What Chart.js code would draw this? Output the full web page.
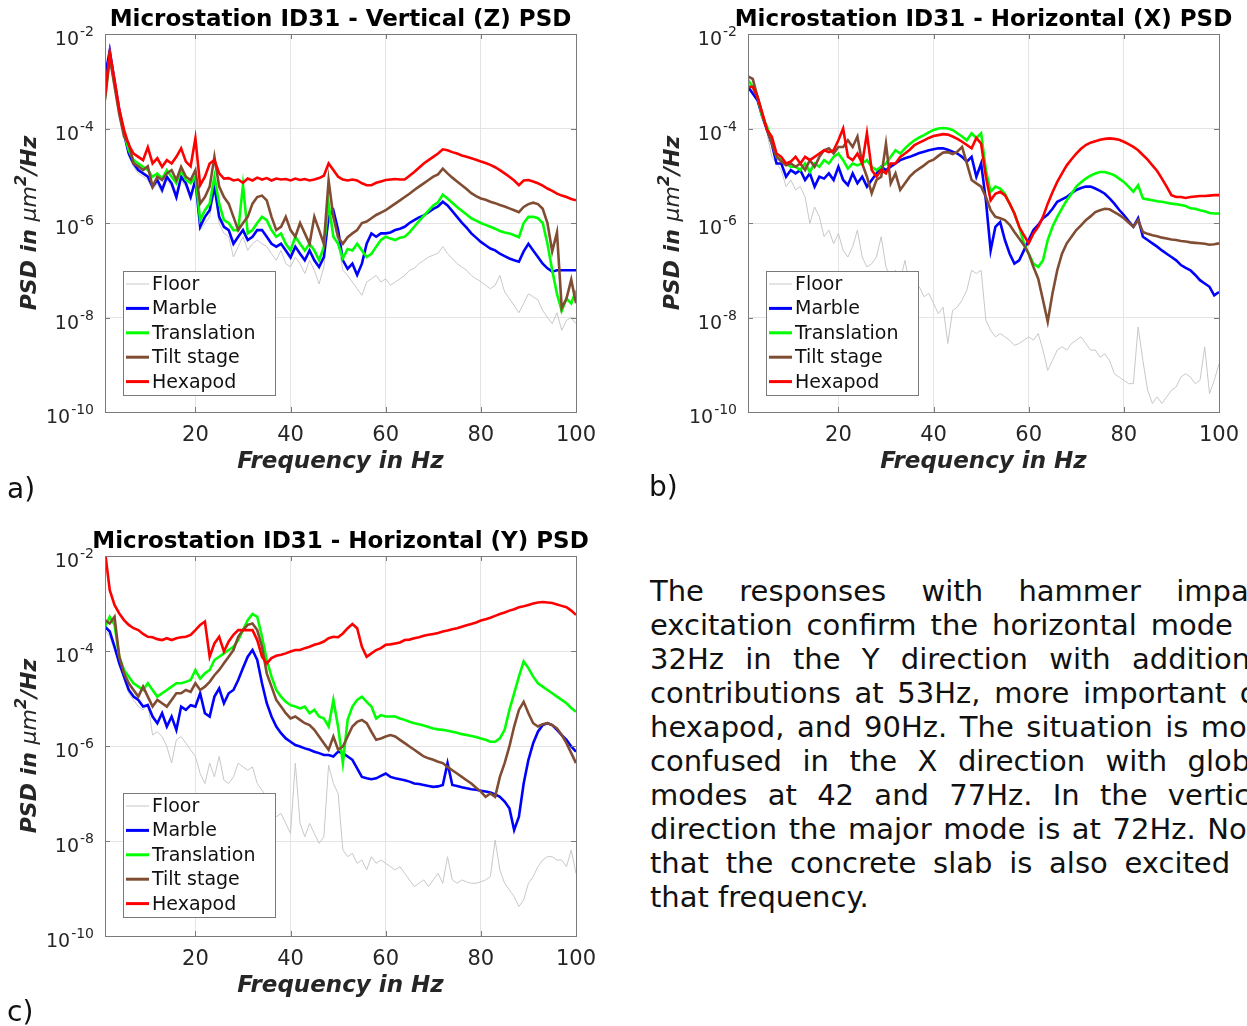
<!DOCTYPE html>
<html>
<head>
<meta charset="utf-8">
<script src="https://cdn.jsdelivr.net/npm/chart.js@4.4.0/dist/chart.umd.min.js"></script>
<style>
  html, body { margin: 0; padding: 0; background: #fff; width: 1247px; height: 1026px; overflow: hidden; }
  canvas { position: absolute; }
  #za { left: 0; top: 0; }
  #zb { left: 620px; top: 0; }
  #zc { left: 0; top: 520px; }
  .panel { position: absolute; font: 28px "DejaVu Sans"; line-height: 1; color: #111; }
  #para { position: absolute; left: 650px; top: 574px; width: 626px; font: 29px "DejaVu Sans"; line-height: 34px; color: #111; }
  #para span { display: block; text-align: justify; text-align-last: justify; white-space: nowrap; }
  #para span.last { text-align-last: left; }
</style>
</head>
<body>
<canvas id="za" width="620" height="500"></canvas>
<canvas id="zb" width="627" height="500"></canvas>
<canvas id="zc" width="620" height="506"></canvas>
<div class="panel" style="left:7px;top:475px;">a)</div>
<div class="panel" style="left:649px;top:473px;">b)</div>
<div class="panel" style="left:7px;top:998px;">c)</div>
<div id="para">
  <span>The responses with hammer impact</span>
  <span>excitation confirm the horizontal mode at</span>
  <span>32Hz in the Y direction with additional</span>
  <span>contributions at 53Hz, more important on</span>
  <span>hexapod, and 90Hz. The situation is more</span>
  <span>confused in the X direction with global</span>
  <span>modes at 42 and 77Hz. In the vertical</span>
  <span>direction the major mode is at 72Hz. Note</span>
  <span>that the concrete slab is also excited at</span>
  <span class="last">that frequency.</span>
</div>
<script>
// frequency grid (Hz), shared by all three plots
const freq = [
  1, 2, 3, 4, 5, 6, 7, 8, 9, 10, 11, 12, 13, 14, 15, 16, 17, 18, 19, 20,
  21, 22, 23, 24, 25, 26, 27, 28, 29, 30, 31, 32, 33, 34, 35, 36, 37, 38, 39, 40,
  41, 42, 43, 44, 45, 46, 47, 48, 49, 50, 51, 52, 53, 54, 55, 56, 57, 58, 59, 60,
  61, 62, 63, 64, 65, 66, 67, 68, 69, 70, 71, 72, 73, 74, 75, 76, 77, 78, 79, 80,
  81, 82, 83, 84, 85, 86, 87, 88, 89, 90, 91, 92, 93, 94, 95, 96, 97, 98, 99, 100
];

const stages = ['Floor', 'Marble', 'Translation', 'Tilt stage', 'Hexapod'];
const xTicks = [20, 40, 60, 80, 100];
const yTickExp = [-2, -4, -6, -8, -10];

// PSD values, stored as log10 (um^2/Hz), one value per freq entry
// a) vertical Z
const zFloor = [
  -3.0, -2.5, -3.1, -3.7, -4.2, -4.6, -4.81, -4.95, -5.02, -5.09,
  -5.3, -5.16, -5.38, -5.09, -5.23, -5.52, -5.09, -5.23, -5.52, -5.16,
  -6.15, -6.01, -5.87, -5.3, -6.01, -6.22, -6.29, -6.72, -6.5, -6.29,
  -6.58, -6.44, -6.36, -6.44, -6.5, -6.65, -6.79, -6.58, -6.86, -6.93,
  -6.72, -6.86, -7.07, -6.79, -7.0, -7.29, -6.93, -6.01, -5.87, -6.44,
  -7.0, -7.11, -7.25, -7.39, -7.53, -7.25, -7.18, -7.11, -7.25, -7.18,
  -7.32, -7.25, -7.18, -7.11, -7.0, -6.96, -6.86, -6.79, -6.72, -6.68,
  -6.64, -6.5, -6.65, -6.75, -6.86, -6.93, -7.0, -7.11, -7.18, -7.24,
  -7.32, -7.39, -7.32, -7.11, -7.46, -7.6, -7.75, -7.9, -7.7, -7.5,
  -7.56, -7.63, -7.85, -8.0, -8.13, -7.9, -8.27, -8.06, -8.0, -8.13
];
const zMarble = [
  -2.9, -2.35, -3.0, -3.6, -4.1, -4.53, -4.74, -4.88, -4.95, -5.02,
  -5.23, -5.09, -5.3, -5.02, -5.16, -5.45, -5.02, -5.16, -5.45, -5.09,
  -6.08, -5.87, -5.73, -5.23, -5.87, -6.08, -6.15, -6.44, -6.29, -6.15,
  -6.36, -6.29, -6.15, -6.15, -6.29, -6.44, -6.5, -6.44, -6.58, -6.73,
  -6.5, -6.65, -6.79, -6.58, -6.79, -6.93, -6.72, -5.87, -5.73, -6.15,
  -6.79, -6.97, -6.86, -7.1, -6.86, -6.44, -6.22, -6.29, -6.22, -6.22,
  -6.2, -6.15, -6.12, -6.08, -6.0, -5.94, -5.88, -5.84, -5.77, -5.7,
  -5.65, -5.55, -5.63, -5.75, -5.87, -5.99, -6.1, -6.22, -6.31, -6.4,
  -6.47, -6.54, -6.58, -6.65, -6.7, -6.75, -6.79, -6.82, -6.6, -6.44,
  -6.58, -6.72, -6.86, -6.96, -7.03, -7.0, -7.0, -7.0, -7.0, -7.0
];
const zTranslation = [
  -3.35, -2.45, -3.05, -3.65, -4.1, -4.46, -4.67, -4.74, -4.81, -4.88,
  -5.02, -4.95, -5.06, -4.88, -5.02, -5.16, -4.88, -5.09, -5.16, -5.02,
  -5.94, -5.73, -5.59, -5.02, -5.59, -5.94, -6.0, -6.15, -6.15, -5.2,
  -6.22, -6.15, -6.0, -5.87, -5.94, -6.15, -6.29, -6.22, -6.44, -6.58,
  -6.29, -6.44, -6.58, -6.44, -6.58, -6.79, -6.5, -5.59, -6.29, -6.44,
  -6.75, -6.55, -6.58, -6.44, -6.58, -6.72, -6.65, -6.5, -6.36, -6.29,
  -6.33, -6.36, -6.31, -6.29, -6.2, -6.08, -5.96, -5.85, -5.74, -5.63,
  -5.56, -5.4, -5.48, -5.57, -5.66, -5.74, -5.82, -5.9, -5.95, -6.0,
  -6.04, -6.08, -6.12, -6.17, -6.2, -6.22, -6.26, -6.3, -6.0, -5.87,
  -5.87, -5.9, -6.0, -6.44, -7.0, -7.5, -7.86, -7.6, -7.7, -7.43
];
const zTilt = [
  -3.4, -2.5, -3.1, -3.7, -4.17, -4.32, -4.74, -4.8, -4.88, -4.8,
  -5.23, -5.02, -5.09, -4.95, -4.88, -5.09, -4.81, -5.02, -5.09, -4.88,
  -5.59, -5.45, -5.23, -4.6, -5.23, -5.45, -5.59, -5.87, -6.15, -6.0,
  -5.87, -5.59, -5.45, -5.42, -5.52, -5.87, -6.15, -6.08, -5.87, -6.15,
  -6.29, -6.0, -6.22, -6.44, -5.87, -6.15, -6.44, -5.1, -5.87, -6.3,
  -6.44, -6.3, -6.22, -6.15, -6.0, -5.97, -5.9, -5.83, -5.78, -5.73,
  -5.66, -5.59, -5.52, -5.45, -5.38, -5.3, -5.23, -5.16, -5.09, -5.02,
  -4.97, -4.85, -4.95, -5.04, -5.12, -5.2, -5.28, -5.37, -5.43, -5.48,
  -5.51, -5.55, -5.58, -5.62, -5.65, -5.69, -5.73, -5.77, -5.66, -5.6,
  -5.57, -5.6, -5.7, -6.0, -6.6, -6.2, -7.8, -7.6, -7.2, -7.7
];
const zHexapod = [
  -3.3, -2.4, -2.97, -3.6, -4.03, -4.35, -4.53, -4.6, -4.67, -4.4,
  -4.74, -4.63, -4.81, -4.67, -4.74, -4.6, -4.42, -4.7, -4.8, -4.21,
  -5.2, -5.02, -4.74, -4.67, -4.95, -5.06, -5.05, -5.1, -5.08, -5.15,
  -5.06, -5.1, -5.04, -5.08, -5.05, -5.1, -5.06, -5.08, -5.07, -5.1,
  -5.06, -5.09, -5.07, -5.1, -5.08, -5.05, -5.0, -4.74, -4.88, -5.02,
  -5.08, -5.1, -5.08, -5.1, -5.16, -5.2, -5.2, -5.15, -5.12, -5.09,
  -5.08, -5.07, -5.08, -5.08, -5.0, -4.92, -4.83, -4.74, -4.67, -4.6,
  -4.53, -4.44, -4.46, -4.5, -4.53, -4.57, -4.6, -4.63, -4.66, -4.7,
  -4.73, -4.77, -4.82, -4.88, -4.95, -5.02, -5.1, -5.2, -5.1, -5.09,
  -5.12, -5.16, -5.21, -5.27, -5.32, -5.38, -5.42, -5.45, -5.49, -5.52
];

// b) horizontal X
const xFloor = [
  -3.1, -3.2, -3.4, -3.75, -4.1, -4.6, -4.74, -4.88, -5.23, -5.09,
  -5.3, -5.23, -5.45, -6.01, -5.66, -5.87, -6.29, -6.15, -6.44, -6.22,
  -6.58, -6.72, -6.5, -6.15, -6.72, -6.93, -6.86, -6.72, -6.29, -6.93,
  -7.14, -7.0, -7.21, -6.79, -7.35, -7.42, -7.35, -7.56, -7.49, -7.7,
  -7.92, -7.78, -8.55, -7.85, -7.78, -7.63, -7.42, -7.0, -7.07, -7.0,
  -8.06, -8.27, -8.41, -8.34, -8.41, -8.48, -8.59, -8.55, -8.48, -8.41,
  -8.48, -8.34, -8.69, -9.12, -8.91, -8.69, -8.62, -8.69, -8.55, -8.48,
  -8.41, -8.55, -8.69, -8.69, -8.84, -8.77, -8.91, -9.19, -9.26, -9.33,
  -9.4, -9.4, -8.2, -8.91, -9.54, -9.82, -9.68, -9.82, -9.68, -9.54,
  -9.47, -9.26, -9.19, -9.26, -9.4, -9.33, -8.62, -9.61, -9.33, -8.98
];
const xMarble = [
  -3.12, -3.26, -3.4, -3.75, -4.03, -4.32, -4.74, -4.74, -5.02, -4.88,
  -4.95, -4.88, -5.09, -4.95, -5.23, -5.02, -5.06, -4.95, -5.09, -4.81,
  -5.09, -5.2, -4.95, -5.16, -5.02, -5.23, -5.09, -4.95, -4.81, -4.88,
  -4.81, -4.74, -4.67, -4.63, -4.6, -4.56, -4.52, -4.49, -4.46, -4.44,
  -4.42, -4.42, -4.45, -4.49, -4.53, -4.6, -4.7, -4.6, -5.02, -4.74,
  -5.52, -6.58, -6.08, -5.98, -6.36, -6.65, -6.86, -6.79, -6.58, -6.36,
  -6.15, -6.04, -5.9, -5.82, -5.7, -5.55, -5.5, -5.45, -5.37, -5.3,
  -5.26, -5.23, -5.23, -5.27, -5.32, -5.38, -5.48, -5.59, -5.72, -5.83,
  -5.96, -6.08, -5.9, -6.29, -6.36, -6.43, -6.5, -6.58, -6.65, -6.72,
  -6.79, -6.89, -6.95, -7.0, -7.1, -7.21, -7.28, -7.35, -7.53, -7.46
];
const xTranslation = [
  -2.97, -3.12, -3.33, -3.75, -3.96, -4.25, -4.6, -4.67, -4.74, -4.81,
  -4.81, -4.88, -4.74, -4.92, -4.74, -4.81, -4.67, -4.74, -4.6, -4.53,
  -4.67, -4.85, -4.74, -4.78, -4.74, -4.67, -4.81, -4.88, -4.81, -4.74,
  -4.6, -4.46, -4.53, -4.42, -4.33, -4.25, -4.19, -4.14, -4.08, -4.03,
  -4.0, -3.99, -4.0, -4.03, -4.1, -4.17, -4.25, -4.1, -4.2, -4.1,
  -4.88, -5.34, -5.23, -5.27, -5.38, -5.59, -5.8, -6.08, -6.43, -6.65,
  -6.86, -6.93, -6.79, -6.36, -6.08, -5.87, -5.69, -5.52, -5.38, -5.23,
  -5.14, -5.06, -5.0, -4.95, -4.92, -4.92, -4.95, -4.99, -5.06, -5.13,
  -5.23, -5.34, -5.2, -5.48, -5.5, -5.52, -5.54, -5.55, -5.57, -5.59,
  -5.6, -5.62, -5.64, -5.69, -5.7, -5.73, -5.75, -5.79, -5.8, -5.8
];
const xTilt = [
  -2.9, -2.95, -3.33, -3.68, -4.03, -4.32, -4.6, -4.7, -4.78, -4.74,
  -4.81, -4.74, -4.88, -4.67, -4.81, -4.6, -4.46, -4.42, -4.53, -4.39,
  -4.39, -4.25, -4.39, -4.17, -4.74, -5.02, -5.37, -5.09, -5.02, -4.32,
  -5.16, -4.95, -5.3, -5.16, -5.02, -4.92, -4.85, -4.78, -4.7, -4.66,
  -4.58, -4.51, -4.5, -4.54, -4.49, -4.39, -4.74, -5.09, -5.16, -5.23,
  -5.45, -5.73, -5.87, -5.9, -5.94, -6.04, -6.19, -6.33, -6.47, -6.65,
  -6.93, -7.18, -7.63, -8.09, -7.49, -7.0, -6.65, -6.43, -6.29, -6.15,
  -6.05, -5.94, -5.86, -5.77, -5.73, -5.7, -5.71, -5.77, -5.83, -5.9,
  -5.99, -6.08, -5.94, -6.19, -6.23, -6.26, -6.28, -6.31, -6.33, -6.35,
  -6.36, -6.38, -6.39, -6.41, -6.42, -6.43, -6.44, -6.46, -6.45, -6.43
];
const xHexapod = [
  -3.12, -3.12, -3.33, -3.68, -4.03, -4.17, -4.53, -4.6, -4.74, -4.7,
  -4.6, -4.74, -4.6, -4.67, -4.6, -4.53, -4.46, -4.5, -4.46, -4.25,
  -4.0, -4.6, -4.67, -4.53, -4.74, -4.1, -4.88, -5.02, -4.88, -4.95,
  -4.74, -4.74, -4.6, -4.53, -4.45, -4.35, -4.3, -4.25, -4.2, -4.16,
  -4.14, -4.12, -4.13, -4.17, -4.22, -4.28, -4.35, -4.42, -4.2, -4.32,
  -5.02, -5.52, -5.38, -5.34, -5.41, -5.59, -5.8, -6.08, -6.26, -6.43,
  -6.22, -6.08, -5.87, -5.59, -5.35, -5.13, -4.95, -4.78, -4.65, -4.53,
  -4.43, -4.35, -4.3, -4.27, -4.24, -4.22, -4.21, -4.22, -4.24, -4.28,
  -4.33, -4.39, -4.46, -4.56, -4.66, -4.78, -4.9, -5.06, -5.23, -5.41,
  -5.45, -5.45, -5.47, -5.45, -5.44, -5.43, -5.43, -5.42, -5.41, -5.41
];

// c) horizontal Y
const yFloor = [
  -3.56, -3.7, -3.98, -4.26, -4.61, -4.89, -5.03, -5.17, -5.24, -5.1,
  -5.77, -5.7, -5.8, -6.01, -6.36, -5.87, -5.8, -5.94, -6.08, -6.22,
  -6.58, -6.79, -6.36, -6.65, -6.22, -6.72, -6.79, -6.65, -6.36, -6.44,
  -6.51, -6.44, -6.79, -6.93, -7.07, -7.35, -7.49, -7.42, -7.63, -7.84,
  -6.36, -7.63, -7.91, -7.63, -7.84, -8.05, -7.91, -6.4, -6.79, -7.0,
  -8.19, -8.33, -8.26, -8.47, -8.4, -8.61, -8.33, -8.47, -8.4, -8.47,
  -8.54, -8.61, -8.54, -8.68, -8.82, -8.96, -8.89, -8.82, -8.96, -8.82,
  -8.68, -8.89, -8.33, -8.82, -8.89, -8.82, -8.86, -8.89, -8.89, -8.86,
  -8.82, -8.75, -7.98, -8.61, -8.89, -9.03, -9.17, -9.38, -9.24, -8.89,
  -8.75, -8.54, -8.4, -8.33, -8.33, -8.4, -8.4, -8.54, -8.19, -8.68
];
const yMarble = [
  -3.49, -3.59, -3.91, -4.26, -4.54, -4.82, -4.96, -5.03, -5.17, -5.14,
  -5.38, -5.52, -5.31, -5.59, -5.38, -5.66, -5.17, -5.24, -5.14, -5.17,
  -4.89, -5.31, -5.38, -4.96, -4.79, -5.1, -4.89, -4.82, -4.61, -4.36,
  -4.12, -3.98, -4.19, -4.68, -5.1, -5.38, -5.59, -5.73, -5.84, -5.91,
  -5.98, -6.01, -6.05, -6.08, -6.12, -6.15, -6.19, -6.19, -6.22, -6.12,
  -6.15, -6.22, -6.29, -6.47, -6.65, -6.68, -6.7, -6.68, -6.63, -6.58,
  -6.65, -6.68, -6.7, -6.72, -6.75, -6.79, -6.8, -6.82, -6.84, -6.86,
  -6.85, -6.82, -6.36, -6.82, -6.84, -6.87, -6.89, -6.91, -6.92, -6.94,
  -6.96, -6.98, -7.02, -7.07, -7.17, -7.31, -7.77, -7.49, -6.79, -6.29,
  -5.94, -5.7, -5.56, -5.52, -5.56, -5.66, -5.77, -5.87, -6.01, -6.12
];
const yTranslation = [
  -3.49, -3.28, -3.45, -4.12, -4.4, -4.54, -4.68, -4.75, -4.82, -4.68,
  -4.82, -4.96, -4.89, -4.82, -4.75, -4.68, -4.68, -4.65, -4.61, -4.4,
  -4.58, -4.47, -4.4, -4.19, -4.12, -4.05, -3.98, -3.91, -3.77, -3.56,
  -3.35, -3.22, -3.28, -3.7, -4.19, -4.54, -4.82, -4.96, -5.07, -5.14,
  -5.17, -5.21, -5.17, -5.31, -5.24, -5.38, -5.42, -5.59, -5.03, -5.6,
  -6.36, -5.45, -5.17, -5.03, -4.96, -5.07, -5.17, -5.42, -5.35, -5.38,
  -5.38, -5.38, -5.42, -5.45, -5.49, -5.52, -5.54, -5.57, -5.6, -5.63,
  -5.65, -5.66, -5.68, -5.7, -5.72, -5.75, -5.77, -5.79, -5.81, -5.84,
  -5.87, -5.91, -5.91, -5.84, -5.66, -5.24, -4.89, -4.54, -4.22, -4.36,
  -4.54, -4.68, -4.75, -4.82, -4.89, -4.96, -5.03, -5.1, -5.2, -5.28
];
const yTilt = [
  -3.35, -3.42, -3.28, -4.12, -4.47, -4.68, -4.82, -4.96, -4.75, -4.96,
  -5.17, -5.03, -5.1, -5.17, -5.03, -4.89, -4.89, -4.82, -4.86, -4.68,
  -4.82, -4.75, -4.65, -4.51, -4.4, -4.26, -4.12, -3.98, -3.7, -3.56,
  -3.45, -3.42, -3.56, -3.91, -4.47, -4.75, -5.03, -5.17, -5.31, -5.42,
  -5.38, -5.45, -5.52, -5.56, -5.66, -5.8, -5.94, -6.08, -5.8, -6.08,
  -6.01, -5.8, -5.59, -5.49, -5.45, -5.52, -5.7, -5.87, -5.84, -5.8,
  -5.77, -5.8, -5.87, -5.94, -6.01, -6.08, -6.15, -6.22, -6.26, -6.29,
  -6.33, -6.36, -6.44, -6.51, -6.58, -6.65, -6.72, -6.79, -6.88, -6.96,
  -7.07, -7.0, -7.07, -6.65, -6.36, -6.01, -5.59, -5.24, -5.07, -5.31,
  -5.52, -5.59, -5.54, -5.52, -5.56, -5.63, -5.77, -5.94, -6.15, -6.36
];
const yHexapod = [
  -1.9, -2.72, -3.03, -3.21, -3.35, -3.45, -3.52, -3.56, -3.64, -3.7,
  -3.71, -3.75, -3.77, -3.73, -3.77, -3.73, -3.71, -3.7, -3.66, -3.56,
  -3.45, -3.38, -4.12, -3.84, -3.7, -4.01, -3.8, -3.66, -3.56, -3.56,
  -3.56, -3.56, -3.77, -4.12, -4.26, -4.15, -4.1, -4.08, -4.05, -4.01,
  -3.98, -3.98, -3.94, -3.91, -3.87, -3.84, -3.8, -3.73, -3.7, -3.71,
  -3.63, -3.52, -3.43, -3.52, -3.91, -4.12, -4.05, -3.98, -3.94, -3.87,
  -3.86, -3.84, -3.82, -3.77, -3.76, -3.73, -3.71, -3.68, -3.66, -3.64,
  -3.62, -3.59, -3.57, -3.54, -3.52, -3.49, -3.46, -3.43, -3.4, -3.36,
  -3.33, -3.3, -3.26, -3.22, -3.19, -3.15, -3.12, -3.08, -3.06, -3.03,
  -3.0, -2.98, -2.97, -2.98, -2.99, -3.02, -3.05, -3.08, -3.15, -3.24
];

const colors = ['#c8c8c8', '#0000ff', '#00ff00', '#804d33', '#ff0000'];
const widths = [1, 2.6, 2.6, 2.6, 2.6];

const FONT = '"DejaVu Sans"';
const TXT = '#262626';

// axes box, inward ticks, labels, titles and the in-plot legend (MATLAB style)
const psdFrame = {
  id: 'psdFrame',
  afterDraw(chart, args, opts) {
    const { ctx, chartArea: a, scales: { x, y } } = chart;
    ctx.save();

    // box + tick marks
    ctx.strokeStyle = '#7a7a7a';
    ctx.lineWidth = 1;
    ctx.strokeRect(Math.round(a.left) + 0.5, Math.round(a.top) + 0.5,
      Math.round(a.right - a.left), Math.round(a.bottom - a.top));
    ctx.beginPath();
    xTicks.forEach(v => {
      const px = Math.round(x.getPixelForValue(v)) + 0.5;
      ctx.moveTo(px, a.bottom); ctx.lineTo(px, a.bottom - 5);
      ctx.moveTo(px, a.top); ctx.lineTo(px, a.top + 5);
    });
    yTickExp.forEach(e => {
      const py = Math.round(y.getPixelForValue(Math.pow(10, e))) + 0.5;
      ctx.moveTo(a.left, py); ctx.lineTo(a.left + 5, py);
      ctx.moveTo(a.right, py); ctx.lineTo(a.right - 5, py);
    });
    ctx.stroke();

    ctx.fillStyle = TXT;
    // x tick labels
    ctx.font = '21px ' + FONT;
    ctx.textAlign = 'center';
    ctx.textBaseline = 'alphabetic';
    xTicks.forEach(v => {
      ctx.fillText(String(v), x.getPixelForValue(v), a.bottom + 29);
    });

    // y tick labels 10^n
    ctx.textAlign = 'right';
    yTickExp.forEach(e => {
      const py = y.getPixelForValue(Math.pow(10, e));
      const right = a.left - 11;
      ctx.font = '14px ' + FONT;
      const sup = String(e);
      const w = ctx.measureText(sup).width;
      ctx.fillText(sup, right, py + 2);
      ctx.font = '19px ' + FONT;
      ctx.fillText('10', right - w - 1, py + 11);
    });

    // title
    const cx = (a.left + a.right) / 2;
    ctx.textAlign = 'center';
    ctx.font = 'bold 23px ' + FONT;
    ctx.fillStyle = '#000';
    ctx.fillText(opts.title, cx, a.top - 8);

    // x axis title
    ctx.fillStyle = TXT;
    ctx.font = 'italic bold 23px ' + FONT;
    ctx.fillText('Frequency in Hz', cx, a.bottom + 56);

    // y axis title with superscript
    const parts = [
      ['PSD in ', 'italic bold 22px ' + FONT, 0],
      ['\u03bcm', 'italic 22px ' + FONT, 0],
      ['2', 'italic bold 16px ' + FONT, -10],
      ['/Hz', 'italic bold 22px ' + FONT, 0]
    ];
    let total = 0;
    parts.forEach(p => { ctx.font = p[1]; p.push(ctx.measureText(p[0]).width); total += p[3]; });
    ctx.translate(a.left - 69, (a.top + a.bottom) / 2);
    ctx.rotate(-Math.PI / 2);
    ctx.textAlign = 'left';
    let px = -total / 2;
    parts.forEach(p => { ctx.font = p[1]; ctx.fillText(p[0], px, p[2]); px += p[3]; });
    ctx.setTransform(1, 0, 0, 1, 0, 0);

    // legend box
    const lx = Math.round(a.left) + 18, ly = Math.round(a.top) + 237;
    ctx.fillStyle = '#fff';
    ctx.fillRect(lx, ly, 152, 124);
    ctx.strokeStyle = '#7a7a7a';
    ctx.strokeRect(lx + 0.5, ly + 0.5, 152, 124);
    ctx.font = '19px ' + FONT;
    ctx.textBaseline = 'middle';
    stages.forEach((name, i) => {
      const ry = ly + 13 + i * 24.4;
      ctx.strokeStyle = colors[i];
      ctx.lineWidth = i === 0 ? 1 : 3;
      ctx.beginPath();
      ctx.moveTo(lx + 3, ry); ctx.lineTo(lx + 26, ry);
      ctx.stroke();
      ctx.fillStyle = '#111';
      ctx.fillText(name, lx + 29, ry + 1);
    });
    ctx.restore();
  }
};

function makePsd(id, title, series, padding) {
  const datasets = series.map((vals, i) => ({
    label: stages[i],
    data: freq.map((f, k) => ({ x: f, y: Math.pow(10, vals[k]) })),
    borderColor: colors[i],
    borderWidth: widths[i],
    pointRadius: 0,
    tension: 0,
    clip: 0,
    order: series.length - i
  }));
  const grid = { color: '#e4e4e4', lineWidth: 1, drawTicks: false };
  return new Chart(document.getElementById(id), {
    type: 'line',
    data: { datasets },
    options: {
      responsive: false,
      animation: false,
      devicePixelRatio: 1,
      events: [],
      layout: { padding },
      plugins: { legend: { display: false }, tooltip: { enabled: false }, psdFrame: { title } },
      scales: {
        x: {
          type: 'linear', min: 1, max: 100,
          afterBuildTicks: s => { s.ticks = xTicks.map(v => ({ value: v })); },
          ticks: { display: false }, grid, border: { display: false }
        },
        y: {
          type: 'logarithmic', min: 1e-10, max: 1e-2,
          afterBuildTicks: s => { s.ticks = yTickExp.map(e => ({ value: Math.pow(10, e) })); },
          ticks: { display: false }, grid, border: { display: false }
        }
      }
    },
    plugins: [psdFrame]
  });
}

makePsd('za', 'Microstation ID31 - Vertical (Z) PSD',
  [zFloor, zMarble, zTranslation, zTilt, zHexapod],
  { left: 105, right: 44, top: 34, bottom: 88 });
makePsd('zb', 'Microstation ID31 - Horizontal (X) PSD',
  [xFloor, xMarble, xTranslation, xTilt, xHexapod],
  { left: 128, right: 28, top: 34, bottom: 88 });
makePsd('zc', 'Microstation ID31 - Horizontal (Y) PSD',
  [yFloor, yMarble, yTranslation, yTilt, yHexapod],
  { left: 105, right: 44, top: 36, bottom: 90 });
</script>
</body>
</html>
